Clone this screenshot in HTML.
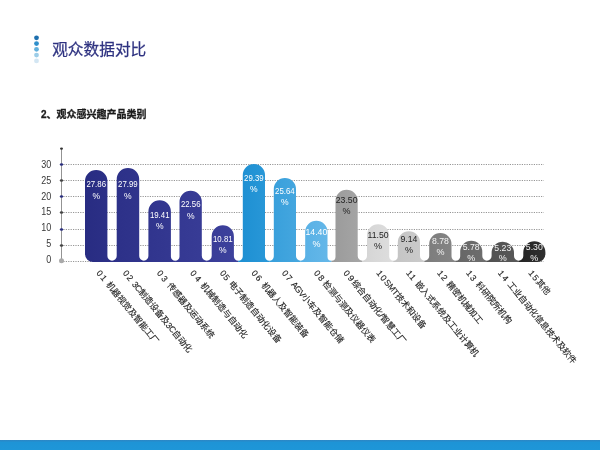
<!DOCTYPE html>
<html lang="zh-CN">
<head>
<meta charset="utf-8">
<title>观众数据对比</title>
<style>
html,body{margin:0;padding:0;background:#fff;}
body{width:600px;height:450px;overflow:hidden;position:relative;font-family:"Liberation Sans","Noto Sans CJK SC",sans-serif;}
svg{position:absolute;left:0;top:0;display:block;will-change:transform;}
.title{font-family:"Liberation Sans","Noto Sans CJK SC",sans-serif;font-size:15.7px;font-weight:400;fill:#2e3280;stroke:#2e3280;stroke-width:0.25px;}
.sub{font-family:"Liberation Sans","Noto Sans CJK SC",sans-serif;font-size:10px;font-weight:700;fill:#1c1c1c;stroke:#1c1c1c;stroke-width:0.3px;}
.axl text{font-family:"Liberation Sans",sans-serif;font-size:10px;fill:#383838;}
.vals text{font-family:"Liberation Sans",sans-serif;}
.labs text{font-family:"Liberation Sans","Noto Sans CJK SC",sans-serif;font-size:8.6px;fill:#1e1e1e;stroke:#1e1e1e;stroke-width:0.12px;white-space:pre;}
.grid line{stroke:#969696;stroke-width:1;stroke-dasharray:1.2 1.2;}
</style>
</head>
<body>
<svg width="600" height="450" viewBox="0 0 600 450">
<defs>
<linearGradient id="g0" x1="0" x2="1" y1="0" y2="0"><stop offset="0" stop-color="#282c82"/><stop offset="1" stop-color="#2c3087"/></linearGradient>
<linearGradient id="g1" x1="0" x2="1" y1="0" y2="0"><stop offset="0" stop-color="#2c3088"/><stop offset="1" stop-color="#30348c"/></linearGradient>
<linearGradient id="g2" x1="0" x2="1" y1="0" y2="0"><stop offset="0" stop-color="#30348d"/><stop offset="1" stop-color="#343891"/></linearGradient>
<linearGradient id="g3" x1="0" x2="1" y1="0" y2="0"><stop offset="0" stop-color="#343892"/><stop offset="1" stop-color="#383c96"/></linearGradient>
<linearGradient id="g4" x1="0" x2="1" y1="0" y2="0"><stop offset="0" stop-color="#383c97"/><stop offset="1" stop-color="#3e429d"/></linearGradient>
<linearGradient id="g5" x1="0" x2="1" y1="0" y2="0"><stop offset="0" stop-color="#1c8fd2"/><stop offset="1" stop-color="#2a98d8"/></linearGradient>
<linearGradient id="g6" x1="0" x2="1" y1="0" y2="0"><stop offset="0" stop-color="#379fdb"/><stop offset="1" stop-color="#46a7df"/></linearGradient>
<linearGradient id="g7" x1="0" x2="1" y1="0" y2="0"><stop offset="0" stop-color="#57b0e5"/><stop offset="1" stop-color="#66b8e9"/></linearGradient>
<linearGradient id="g8" x1="0" x2="1" y1="0" y2="0"><stop offset="0" stop-color="#9a9a9a"/><stop offset="1" stop-color="#a6a6a6"/></linearGradient>
<linearGradient id="g9" x1="0" x2="1" y1="0" y2="0"><stop offset="0" stop-color="#d4d4d4"/><stop offset="1" stop-color="#dedede"/></linearGradient>
<linearGradient id="g10" x1="0" x2="1" y1="0" y2="0"><stop offset="0" stop-color="#c4c4c4"/><stop offset="1" stop-color="#cbcbcb"/></linearGradient>
<linearGradient id="g11" x1="0" x2="1" y1="0" y2="0"><stop offset="0" stop-color="#7c7c7c"/><stop offset="1" stop-color="#858585"/></linearGradient>
<linearGradient id="g12" x1="0" x2="1" y1="0" y2="0"><stop offset="0" stop-color="#666666"/><stop offset="1" stop-color="#6e6e6e"/></linearGradient>
<linearGradient id="g13" x1="0" x2="1" y1="0" y2="0"><stop offset="0" stop-color="#505050"/><stop offset="1" stop-color="#585858"/></linearGradient>
<linearGradient id="g14" x1="0" x2="1" y1="0" y2="0"><stop offset="0" stop-color="#242424"/><stop offset="1" stop-color="#303030"/></linearGradient>
<linearGradient id="foot" x1="0" x2="0" y1="0" y2="1"><stop offset="0" stop-color="#2c86c4"/><stop offset="0.25" stop-color="#1e94d6"/><stop offset="1" stop-color="#1e96d8"/></linearGradient>
</defs>
<rect x="0" y="0" width="600" height="450" fill="#ffffff"/>
<g>
<circle cx="36.5" cy="37.8" r="2.4" fill="#1d6fae"/>
<circle cx="36.5" cy="43.6" r="2.4" fill="#2f8fcb"/>
<circle cx="36.5" cy="49.3" r="2.4" fill="#62b0dc"/>
<circle cx="36.5" cy="55.1" r="2.4" fill="#9ccde8"/>
<circle cx="36.5" cy="60.9" r="2.4" fill="#d3e6f3"/>
</g>
<text class="title" x="52.2" y="54.5">观众数据对比</text>
<text class="sub" x="41" y="117.9">2、观众感兴趣产品类别</text>
<g class="grid">
<line x1="63.4" x2="543.8" y1="261.5" y2="261.5"/>
<line x1="63.4" x2="543.8" y1="245.5" y2="245.5"/>
<line x1="63.4" x2="543.8" y1="229.5" y2="229.5"/>
<line x1="63.4" x2="543.8" y1="212.5" y2="212.5"/>
<line x1="63.4" x2="543.8" y1="196.5" y2="196.5"/>
<line x1="63.4" x2="543.8" y1="180.5" y2="180.5"/>
<line x1="63.4" x2="543.8" y1="164.5" y2="164.5"/>
</g>
<line x1="61.5" x2="61.5" y1="148.5" y2="261.2" stroke="#939393" stroke-width="1"/>
<ellipse cx="61.5" cy="148.6" rx="1.5" ry="1.2" fill="#333"/>
<circle cx="61.5" cy="260.8" r="2.5" fill="#a9a9a9"/>
<ellipse cx="61.5" cy="245.5" rx="1.7" ry="1.3" fill="#444"/>
<ellipse cx="61.5" cy="229.5" rx="1.7" ry="1.3" fill="#2a2e80"/>
<ellipse cx="61.5" cy="212.5" rx="1.7" ry="1.3" fill="#444"/>
<ellipse cx="61.5" cy="196.5" rx="1.7" ry="1.3" fill="#2a2e80"/>
<ellipse cx="61.5" cy="180.5" rx="1.7" ry="1.3" fill="#444"/>
<ellipse cx="61.5" cy="164.5" rx="1.7" ry="1.3" fill="#2a2e80"/>
<g class="axl">
<text x="51.2" y="262.7" text-anchor="end" textLength="5.0" lengthAdjust="spacingAndGlyphs">0</text>
<text x="51.2" y="246.9" text-anchor="end" textLength="5.0" lengthAdjust="spacingAndGlyphs">5</text>
<text x="51.2" y="231.1" text-anchor="end" textLength="10.0" lengthAdjust="spacingAndGlyphs">10</text>
<text x="51.2" y="215.3" text-anchor="end" textLength="10.0" lengthAdjust="spacingAndGlyphs">15</text>
<text x="51.2" y="199.5" text-anchor="end" textLength="10.0" lengthAdjust="spacingAndGlyphs">20</text>
<text x="51.2" y="183.7" text-anchor="end" textLength="10.0" lengthAdjust="spacingAndGlyphs">25</text>
<text x="51.2" y="167.9" text-anchor="end" textLength="10.0" lengthAdjust="spacingAndGlyphs">30</text>
</g>
<g class="bars">
<path d="M93.00,262.0 A8,8 0 0 1 85.00,254.00 L85.00,181.20 A11.20,11.20 0 0 1 107.40,181.20 L107.40,256.05 A4.65,4.65 0 0 0 112.05,260.7 L112.15,260.7 L112.15,262.0 Z" fill="url(#g0)"/>
<path d="M111.95,262.0 L111.95,260.7 L112.05,260.7 A4.65,4.65 0 0 0 116.70,256.05 L116.70,179.25 A11.25,11.25 0 0 1 139.20,179.25 L139.20,256.10 A4.60,4.60 0 0 0 143.80,260.7 L143.90,260.7 L143.90,262.0 Z" fill="url(#g1)"/>
<path d="M143.70,262.0 L143.70,260.7 L143.80,260.7 A4.60,4.60 0 0 0 148.40,256.10 L148.40,211.55 A11.25,11.25 0 0 1 170.90,211.55 L170.90,256.40 A4.30,4.30 0 0 0 175.20,260.7 L175.30,260.7 L175.30,262.0 Z" fill="url(#g2)"/>
<path d="M175.10,262.0 L175.10,260.7 L175.20,260.7 A4.30,4.30 0 0 0 179.50,256.40 L179.50,201.95 A11.15,11.15 0 0 1 201.80,201.95 L201.80,255.75 A4.95,4.95 0 0 0 206.75,260.7 L206.85,260.7 L206.85,262.0 Z" fill="url(#g3)"/>
<path d="M206.65,262.0 L206.65,260.7 L206.75,260.7 A4.95,4.95 0 0 0 211.70,255.75 L211.70,236.40 A11.10,11.10 0 0 1 233.90,236.40 L233.90,256.25 A4.45,4.45 0 0 0 238.35,260.7 L238.45,260.7 L238.45,262.0 Z" fill="url(#g4)"/>
<path d="M238.25,262.0 L238.25,260.7 L238.35,260.7 A4.45,4.45 0 0 0 242.80,256.25 L242.80,175.10 A11.10,11.10 0 0 1 265.00,175.10 L265.00,256.30 A4.40,4.40 0 0 0 269.40,260.7 L269.50,260.7 L269.50,262.0 Z" fill="url(#g5)"/>
<path d="M269.30,262.0 L269.30,260.7 L269.40,260.7 A4.40,4.40 0 0 0 273.80,256.30 L273.80,189.10 A11.10,11.10 0 0 1 296.00,189.10 L296.00,256.10 A4.60,4.60 0 0 0 300.60,260.7 L300.70,260.7 L300.70,262.0 Z" fill="url(#g6)"/>
<path d="M300.50,262.0 L300.50,260.7 L300.60,260.7 A4.60,4.60 0 0 0 305.20,256.10 L305.20,231.95 A11.15,11.15 0 0 1 327.50,231.95 L327.50,256.70 A4.00,4.00 0 0 0 331.50,260.7 L331.60,260.7 L331.60,262.0 Z" fill="url(#g7)"/>
<path d="M331.40,262.0 L331.40,260.7 L331.50,260.7 A4.00,4.00 0 0 0 335.50,256.70 L335.50,200.80 A11.10,11.10 0 0 1 357.70,200.80 L357.70,256.05 A4.65,4.65 0 0 0 362.35,260.7 L362.45,260.7 L362.45,262.0 Z" fill="url(#g8)"/>
<path d="M362.25,262.0 L362.25,260.7 L362.35,260.7 A4.65,4.65 0 0 0 367.00,256.05 L367.00,235.30 A11.10,11.10 0 0 1 389.20,235.30 L389.20,256.40 A4.30,4.30 0 0 0 393.50,260.7 L393.60,260.7 L393.60,262.0 Z" fill="url(#g9)"/>
<path d="M393.40,262.0 L393.40,260.7 L393.50,260.7 A4.30,4.30 0 0 0 397.80,256.40 L397.80,242.40 A11.10,11.10 0 0 1 420.00,242.40 L420.00,256.10 A4.60,4.60 0 0 0 424.60,260.7 L424.70,260.7 L424.70,262.0 Z" fill="url(#g10)"/>
<path d="M424.50,262.0 L424.50,260.7 L424.60,260.7 A4.60,4.60 0 0 0 429.20,256.10 L429.20,244.15 A11.15,11.15 0 0 1 451.50,244.15 L451.50,256.35 A4.35,4.35 0 0 0 455.85,260.7 L455.95,260.7 L455.95,262.0 Z" fill="url(#g11)"/>
<path d="M455.75,262.0 L455.75,260.7 L455.85,260.7 A4.35,4.35 0 0 0 460.20,256.35 L460.20,251.75 A11.05,11.05 0 0 1 482.30,251.75 L482.30,256.05 A4.65,4.65 0 0 0 486.95,260.7 L487.05,260.7 L487.05,262.0 Z" fill="url(#g12)"/>
<path d="M486.85,262.0 L486.85,260.7 L486.95,260.7 A4.65,4.65 0 0 0 491.60,256.05 L491.60,252.90 A11.20,11.20 0 0 1 514.00,252.90 L514.00,256.05 A4.65,4.65 0 0 0 518.65,260.7 L518.75,260.7 L518.75,262.0 Z" fill="url(#g13)"/>
<path d="M518.55,262.0 L518.55,260.7 L518.65,260.7 A4.65,4.65 0 0 0 523.30,256.05 L523.30,252.25 A11.05,11.05 0 0 1 545.40,252.25 L545.40,254.00 A8,8 0 0 1 537.40,262.0 Z" fill="url(#g14)"/>
</g>
<g class="vals">
<text x="96.2" y="186.8" fill="#fff" font-size="9.9" text-anchor="middle" textLength="19.6" lengthAdjust="spacingAndGlyphs">27.86</text>
<text x="96.2" y="198.8" fill="#fff" font-size="9.8" text-anchor="middle" textLength="7.6" lengthAdjust="spacingAndGlyphs">%</text>
<text x="127.9" y="186.8" fill="#fff" font-size="9.9" text-anchor="middle" textLength="19.6" lengthAdjust="spacingAndGlyphs">27.99</text>
<text x="127.9" y="198.8" fill="#fff" font-size="9.8" text-anchor="middle" textLength="7.6" lengthAdjust="spacingAndGlyphs">%</text>
<text x="159.7" y="218.0" fill="#fff" font-size="9.9" text-anchor="middle" textLength="19.6" lengthAdjust="spacingAndGlyphs">19.41</text>
<text x="159.7" y="229.2" fill="#fff" font-size="9.8" text-anchor="middle" textLength="7.6" lengthAdjust="spacingAndGlyphs">%</text>
<text x="190.7" y="206.7" fill="#fff" font-size="9.9" text-anchor="middle" textLength="19.6" lengthAdjust="spacingAndGlyphs">22.56</text>
<text x="190.7" y="218.7" fill="#fff" font-size="9.8" text-anchor="middle" textLength="7.6" lengthAdjust="spacingAndGlyphs">%</text>
<text x="222.8" y="242.0" fill="#fff" font-size="9.9" text-anchor="middle" textLength="19.6" lengthAdjust="spacingAndGlyphs">10.81</text>
<text x="222.8" y="253.0" fill="#fff" font-size="9.8" text-anchor="middle" textLength="7.6" lengthAdjust="spacingAndGlyphs">%</text>
<text x="253.9" y="180.8" fill="#fff" font-size="9.9" text-anchor="middle" textLength="19.6" lengthAdjust="spacingAndGlyphs">29.39</text>
<text x="253.9" y="192.0" fill="#fff" font-size="9.8" text-anchor="middle" textLength="7.6" lengthAdjust="spacingAndGlyphs">%</text>
<text x="284.9" y="193.7" fill="#fff" font-size="9.9" text-anchor="middle" textLength="19.6" lengthAdjust="spacingAndGlyphs">25.64</text>
<text x="284.9" y="204.7" fill="#fff" font-size="9.8" text-anchor="middle" textLength="7.6" lengthAdjust="spacingAndGlyphs">%</text>
<text x="316.4" y="235.3" fill="#fff" font-size="8.7" text-anchor="middle">14.40</text>
<text x="316.4" y="246.7" fill="#fff" font-size="9" text-anchor="middle">%</text>
<text x="346.6" y="202.5" fill="#222" font-size="8.7" text-anchor="middle">23.50</text>
<text x="346.6" y="213.7" fill="#222" font-size="9" text-anchor="middle">%</text>
<text x="378.1" y="238.3" fill="#222" font-size="8.7" text-anchor="middle">11.50</text>
<text x="378.1" y="249.2" fill="#222" font-size="9" text-anchor="middle">%</text>
<text x="408.9" y="241.7" fill="#222" font-size="8.7" text-anchor="middle">9.14</text>
<text x="408.9" y="252.6" fill="#222" font-size="9" text-anchor="middle">%</text>
<text x="440.4" y="244.3" fill="#f4f4f4" font-size="8.7" text-anchor="middle">8.78</text>
<text x="440.4" y="255.4" fill="#f4f4f4" font-size="9" text-anchor="middle">%</text>
<text x="471.2" y="250.0" fill="#f4f4f4" font-size="8.7" text-anchor="middle">5.78</text>
<text x="471.2" y="260.8" fill="#f4f4f4" font-size="9" text-anchor="middle">%</text>
<text x="502.8" y="250.8" fill="#f4f4f4" font-size="8.7" text-anchor="middle">5.23</text>
<text x="502.8" y="260.8" fill="#f4f4f4" font-size="9" text-anchor="middle">%</text>
<text x="534.3" y="249.7" fill="#f4f4f4" font-size="8.7" text-anchor="middle">5.30</text>
<text x="534.3" y="260.5" fill="#f4f4f4" font-size="9" text-anchor="middle">%</text>
</g>
<g class="labs">
<text transform="translate(96.1,273.3) rotate(50.5)" x="0" y="0"><tspan letter-spacing="1.2">01</tspan><tspan dx="0.65"> 机器视觉及智能工厂</tspan></text>
<text transform="translate(122.4,273.3) rotate(50.5)" x="0" y="0"><tspan letter-spacing="1.2">02</tspan> <tspan letter-spacing="-0.4">3C</tspan>制造设备及<tspan letter-spacing="-0.4">3C</tspan>自动化</text>
<text transform="translate(156.4,273.3) rotate(50.5)" x="0" y="0"><tspan letter-spacing="2.2">03</tspan><tspan dx="-0.2"> 传感器及运动系统</tspan></text>
<text transform="translate(189.8,273.3) rotate(50.5)" x="0" y="0"><tspan letter-spacing="2.2">04</tspan><tspan dx="-0.2"> 机械制造与自动化</tspan></text>
<text transform="translate(219.4,273.3) rotate(50.5)" x="0" y="0"><tspan letter-spacing="0.6">05</tspan><tspan dx="0.65"> 电子制造自动化设备</tspan></text>
<text transform="translate(251.1,273.3) rotate(50.5)" x="0" y="0"><tspan letter-spacing="1.2">06</tspan><tspan dx="1.3"> 机器人及智能装备</tspan></text>
<text transform="translate(281.4,273.3) rotate(50.5)" x="0" y="0"><tspan letter-spacing="1.4">07</tspan> <tspan letter-spacing="-0.5">AGV</tspan>小车及智能仓储</text>
<text transform="translate(313.6,273.3) rotate(50.5)" x="0" y="0"><tspan letter-spacing="1.3">08</tspan><tspan dx="-1.0"> 检测与测及仪器仪表</tspan></text>
<text transform="translate(343.1,273.3) rotate(50.5)" x="0" y="0"><tspan letter-spacing="1.7">09</tspan><tspan dx="-0.3">综合自动化</tspan><tspan letter-spacing="0">/</tspan>智慧工厂</text>
<text transform="translate(376.0,273.3) rotate(50.5)" x="0" y="0"><tspan letter-spacing="1.2">10</tspan><tspan letter-spacing="-0.15">SMT</tspan>技术和设备</text>
<text transform="translate(405.7,273.3) rotate(50.5)" x="0" y="0"><tspan letter-spacing="1.0">11</tspan><tspan dx="0.85"> 嵌入式系统及工业计算机</tspan></text>
<text transform="translate(436.7,273.3) rotate(50.5)" x="0" y="0"><tspan letter-spacing="1.0">12</tspan><tspan dx="0.6"> 精密机械加工</tspan></text>
<text transform="translate(465.7,273.3) rotate(50.5)" x="0" y="0"><tspan letter-spacing="1.2">13</tspan><tspan dx="0.6"> 科研院所机构</tspan></text>
<text transform="translate(497.5,273.3) rotate(50.5)" x="0" y="0"><tspan letter-spacing="1.6">14</tspan><tspan dx="-0.3"> 工业自动化信息技术及软件</tspan></text>
<text transform="translate(528.1,273.3) rotate(50.5)" x="0" y="0"><tspan letter-spacing="1.0">15</tspan>其他</text>
</g>
<rect x="0" y="440" width="600" height="10" fill="url(#foot)"/>
</svg>
</body>
</html>
